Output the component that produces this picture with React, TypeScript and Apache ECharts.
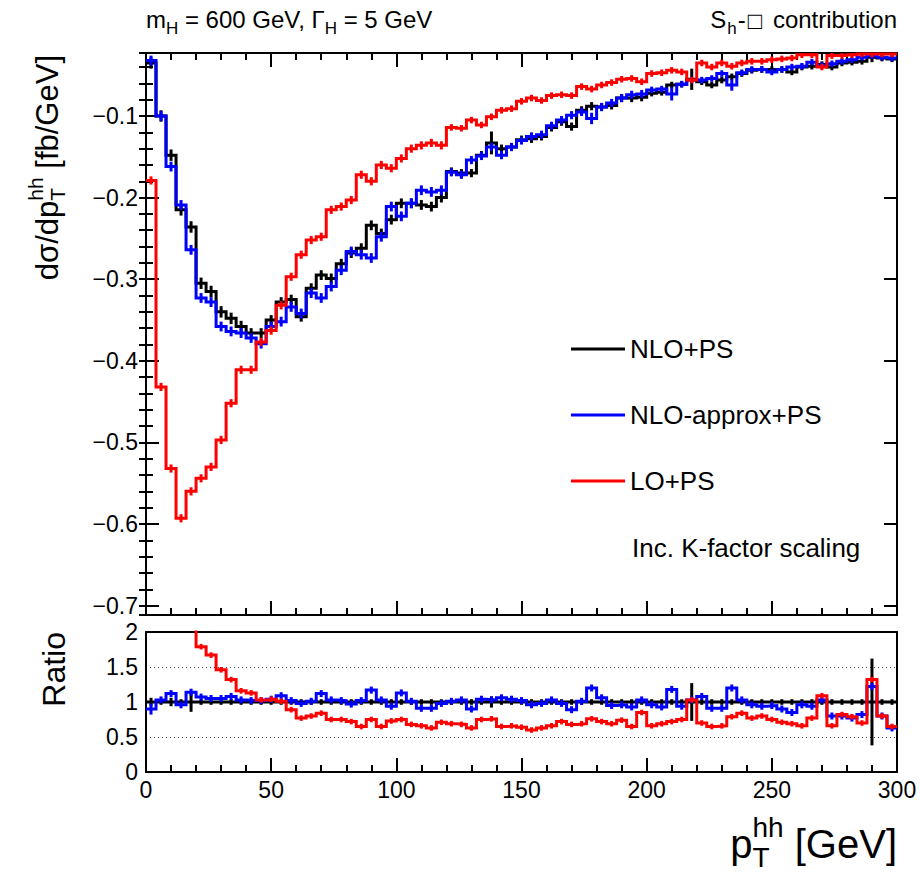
import React, { useEffect, useRef } from 'react';
import * as echarts from 'echarts';

const FONT = '"Liberation Sans", Arial, Helvetica, sans-serif';

// bin low edges in GeV (4 GeV bins)
const binLow = [
  0, 4, 8, 12, 16, 20, 24, 28, 32, 36, 40, 44, 48, 52, 56, 60, 64, 68, 72, 76,
  80, 84, 88, 92, 96, 100, 104, 108, 112, 116, 120, 124, 128, 132, 136, 140, 144, 148, 152, 156,
  160, 164, 168, 172, 176, 180, 184, 188, 192, 196, 200, 204, 208, 212, 216, 220, 224, 228, 232, 236,
  240, 244, 248, 252, 256, 260, 264, 268, 272, 276, 280, 284, 288, 292, 296,
];
const X_MAX = 300;
const seriesNames = ['NLO+PS', 'NLO-approx+PS', 'LO+PS'];
const seriesColors = ['#000000', '#0000ff', '#ff0000'];

// dsigma/dpT [fb/GeV]
const nloPS = [
  -0.035, -0.100, -0.148, -0.215, -0.236, -0.305, -0.315, -0.340, -0.348, -0.358,
  -0.366, -0.366, -0.350, -0.328, -0.325, -0.346, -0.311, -0.295, -0.299, -0.281,
  -0.268, -0.262, -0.234, -0.244, -0.227, -0.207, -0.207, -0.209, -0.211, -0.200,
  -0.168, -0.170, -0.170, -0.148, -0.133, -0.140, -0.138, -0.129, -0.128, -0.125,
  -0.114, -0.107, -0.113, -0.093, -0.088, -0.089, -0.087, -0.078, -0.078, -0.077,
  -0.072, -0.071, -0.062, -0.061, -0.055, -0.058, -0.062, -0.056, -0.052, -0.048,
  -0.044, -0.043, -0.043, -0.043, -0.046, -0.040, -0.039, -0.037, -0.040, -0.035,
  -0.034, -0.033, -0.028, -0.029, -0.030,
];
const nloApproxPS = [
  -0.032, -0.100, -0.162, -0.209, -0.264, -0.323, -0.328, -0.358, -0.364, -0.366,
  -0.372, -0.379, -0.358, -0.352, -0.334, -0.342, -0.317, -0.323, -0.309, -0.289,
  -0.266, -0.270, -0.274, -0.248, -0.211, -0.223, -0.207, -0.191, -0.193, -0.191,
  -0.169, -0.172, -0.154, -0.149, -0.138, -0.148, -0.138, -0.130, -0.125, -0.123,
  -0.112, -0.105, -0.099, -0.095, -0.103, -0.089, -0.084, -0.078, -0.074, -0.073,
  -0.068, -0.067, -0.073, -0.061, -0.056, -0.056, -0.054, -0.048, -0.062, -0.047,
  -0.043, -0.043, -0.046, -0.043, -0.040, -0.039, -0.034, -0.038, -0.036, -0.033,
  -0.031, -0.028, -0.026, -0.028, -0.029,
];
const loPS = [
  -0.179, -0.432, -0.532, -0.593, -0.560, -0.544, -0.530, -0.497, -0.452, -0.411,
  -0.411, -0.377, -0.363, -0.332, -0.297, -0.270, -0.252, -0.248, -0.215, -0.211,
  -0.203, -0.172, -0.180, -0.160, -0.164, -0.152, -0.140, -0.136, -0.133, -0.136,
  -0.114, -0.115, -0.105, -0.111, -0.101, -0.093, -0.091, -0.082, -0.078, -0.081,
  -0.075, -0.074, -0.075, -0.064, -0.067, -0.062, -0.059, -0.055, -0.054, -0.058,
  -0.048, -0.047, -0.044, -0.046, -0.056, -0.035, -0.040, -0.035, -0.039, -0.035,
  -0.033, -0.033, -0.031, -0.030, -0.029, -0.025, -0.025, -0.040, -0.026, -0.026,
  -0.025, -0.024, -0.024, -0.024, -0.024,
];
const errNloPS = [
  0.007, 0.007, 0.007, 0.007, 0.007, 0.007, 0.007, 0.007, 0.007, 0.007,
  0.006, 0.006, 0.006, 0.006, 0.006, 0.006, 0.006, 0.006, 0.006, 0.006,
  0.006, 0.006, 0.006, 0.006, 0.006, 0.006, 0.006, 0.006, 0.006, 0.006,
  0.005, 0.005, 0.005, 0.005, 0.014, 0.005, 0.005, 0.005, 0.005, 0.005,
  0.005, 0.005, 0.005, 0.005, 0.005, 0.005, 0.005, 0.005, 0.005, 0.005,
  0.004, 0.004, 0.004, 0.004, 0.013, 0.004, 0.004, 0.004, 0.004, 0.004,
  0.004, 0.004, 0.004, 0.004, 0.004, 0.004, 0.004, 0.004, 0.004, 0.004,
  0.004, 0.004, 0.006, 0.004, 0.004,
];
const errNloApproxPS = [
  0.006, 0.006, 0.006, 0.006, 0.006, 0.006, 0.006, 0.006, 0.006, 0.006,
  0.006, 0.006, 0.006, 0.006, 0.006, 0.006, 0.006, 0.006, 0.006, 0.006,
  0.006, 0.006, 0.006, 0.006, 0.006, 0.006, 0.006, 0.006, 0.006, 0.006,
  0.005, 0.005, 0.005, 0.005, 0.005, 0.005, 0.005, 0.005, 0.005, 0.005,
  0.005, 0.005, 0.005, 0.005, 0.007, 0.005, 0.005, 0.005, 0.005, 0.005,
  0.004, 0.004, 0.008, 0.004, 0.004, 0.004, 0.004, 0.004, 0.007, 0.004,
  0.004, 0.004, 0.004, 0.004, 0.004, 0.004, 0.004, 0.004, 0.004, 0.004,
  0.004, 0.004, 0.004, 0.004, 0.004,
];
const errLoPS = [
  0.005, 0.005, 0.005, 0.005, 0.005, 0.005, 0.005, 0.005, 0.005, 0.005,
  0.005, 0.005, 0.005, 0.005, 0.005, 0.005, 0.005, 0.005, 0.005, 0.005,
  0.005, 0.005, 0.005, 0.005, 0.005, 0.005, 0.005, 0.005, 0.005, 0.005,
  0.004, 0.004, 0.004, 0.004, 0.004, 0.004, 0.004, 0.004, 0.004, 0.004,
  0.004, 0.004, 0.004, 0.004, 0.004, 0.004, 0.004, 0.004, 0.004, 0.004,
  0.004, 0.004, 0.004, 0.004, 0.004, 0.004, 0.004, 0.004, 0.004, 0.004,
  0.004, 0.004, 0.004, 0.004, 0.004, 0.004, 0.004, 0.004, 0.004, 0.004,
  0.004, 0.004, 0.004, 0.004, 0.004,
];

// ratio to NLO+PS
const ratioNloPS = [
  1, 1, 1, 1, 1, 1, 1, 1, 1, 1, 1, 1, 1, 1, 1, 1, 1, 1, 1, 1,
  1, 1, 1, 1, 1, 1, 1, 1, 1, 1, 1, 1, 1, 1, 1, 1, 1, 1, 1, 1,
  1, 1, 1, 1, 1, 1, 1, 1, 1, 1, 1, 1, 1, 1, 1, 1, 1, 1, 1, 1,
  1, 1, 1, 1, 1, 1, 1, 1, 1, 1, 1, 1, 1, 1, 1,
];
const ratioNloApproxPS = [
  0.90, 1.03, 1.12, 0.96, 1.14, 1.07, 1.05, 1.05, 1.08, 1.03,
  1.02, 1.02, 1.04, 1.09, 1.02, 0.98, 1.01, 1.12, 1.03, 1.02,
  0.97, 1.02, 1.17, 1.03, 0.94, 1.13, 1.01, 0.91, 0.91, 0.98,
  1.01, 1.03, 0.90, 1.04, 1.03, 1.06, 1.04, 1.02, 0.96, 0.98,
  1.03, 0.98, 0.89, 1.01, 1.20, 1.06, 0.95, 0.96, 0.93, 1.03,
  0.96, 0.93, 1.18, 0.94, 1.03, 1.08, 0.91, 0.91, 1.20, 1.03,
  0.96, 0.94, 0.95, 0.90, 0.85, 0.96, 0.94, 1.03, 0.80, 0.80,
  0.77, 0.82, 1.22, 0.80, 0.63,
];
const ratioLoPS = [
  5.10, 4.30, 3.60, 2.76, 2.37, 1.79, 1.67, 1.46, 1.32, 1.16,
  1.13, 1.03, 1.04, 1.01, 0.89, 0.77, 0.80, 0.84, 0.75, 0.75,
  0.72, 0.65, 0.75, 0.65, 0.73, 0.75, 0.68, 0.66, 0.63, 0.71,
  0.69, 0.68, 0.63, 0.75, 0.76, 0.65, 0.66, 0.64, 0.60, 0.63,
  0.66, 0.72, 0.68, 0.69, 0.76, 0.72, 0.69, 0.74, 0.65, 0.85,
  0.66, 0.69, 0.72, 0.75, 1.03, 0.70, 0.65, 0.66, 0.79, 0.84,
  0.77, 0.80, 0.75, 0.71, 0.69, 0.66, 0.77, 1.09, 0.66, 0.82,
  0.79, 0.70, 1.32, 0.80, 0.65,
];
const ratioErrNloPS = [
  0.06, 0.04, 0.06, 0.04, 0.14, 0.04, 0.04, 0.04, 0.04, 0.04,
  0.04, 0.04, 0.04, 0.04, 0.04, 0.04, 0.04, 0.04, 0.04, 0.04,
  0.04, 0.04, 0.04, 0.04, 0.04, 0.04, 0.04, 0.04, 0.04, 0.04,
  0.04, 0.04, 0.04, 0.04, 0.08, 0.04, 0.04, 0.04, 0.04, 0.04,
  0.04, 0.04, 0.04, 0.04, 0.04, 0.04, 0.04, 0.04, 0.04, 0.04,
  0.04, 0.04, 0.04, 0.04, 0.27, 0.04, 0.04, 0.04, 0.04, 0.04,
  0.04, 0.04, 0.04, 0.04, 0.04, 0.04, 0.04, 0.04, 0.04, 0.04,
  0.04, 0.04, 0.62, 0.04, 0.04,
];
const ratioErrNloApproxPS = [
  0.08, 0.05, 0.05, 0.05, 0.05, 0.05, 0.05, 0.05, 0.05, 0.05,
  0.05, 0.05, 0.05, 0.05, 0.05, 0.05, 0.05, 0.05, 0.05, 0.05,
  0.05, 0.05, 0.05, 0.05, 0.05, 0.05, 0.05, 0.05, 0.05, 0.05,
  0.05, 0.05, 0.05, 0.05, 0.05, 0.05, 0.05, 0.05, 0.05, 0.05,
  0.05, 0.05, 0.05, 0.05, 0.05, 0.05, 0.05, 0.05, 0.05, 0.05,
  0.05, 0.05, 0.05, 0.05, 0.05, 0.05, 0.05, 0.05, 0.05, 0.05,
  0.05, 0.05, 0.05, 0.05, 0.05, 0.05, 0.05, 0.05, 0.05, 0.05,
  0.05, 0.05, 0.05, 0.05, 0.05,
];
const ratioErrLoPS = [
  0.04, 0.04, 0.04, 0.04, 0.04, 0.04, 0.04, 0.04, 0.04, 0.04,
  0.04, 0.04, 0.04, 0.04, 0.04, 0.04, 0.04, 0.04, 0.04, 0.04,
  0.04, 0.04, 0.04, 0.04, 0.04, 0.04, 0.04, 0.04, 0.04, 0.04,
  0.04, 0.04, 0.04, 0.04, 0.04, 0.04, 0.04, 0.04, 0.04, 0.04,
  0.04, 0.04, 0.04, 0.04, 0.04, 0.04, 0.04, 0.04, 0.04, 0.04,
  0.04, 0.04, 0.04, 0.04, 0.04, 0.04, 0.04, 0.04, 0.04, 0.04,
  0.04, 0.04, 0.04, 0.04, 0.04, 0.04, 0.04, 0.04, 0.04, 0.04,
  0.04, 0.04, 0.04, 0.04, 0.04,
];

const Y_MIN = -0.7115;
const Y_MAX = -0.0228;

export default function App() {
  const ref = useRef<HTMLDivElement>(null);
  useEffect(() => {
    const el = ref.current as HTMLDivElement;
    const chart = echarts.init(el, null, { renderer: 'svg' });

    const ctx = document.createElement('canvas').getContext('2d') as CanvasRenderingContext2D;
    const tw = (s: string, size: number) => {
      ctx.font = `${size}px ${FONT}`;
      return ctx.measureText(s).width;
    };
    const BK = 0.35;
    const txt = (text: string, x: number, base: number, size: number): any => ({
      type: 'text', x, y: base - BK * size, silent: true,
      style: { text, fontSize: size, fontFamily: FONT, fill: '#000', align: 'left', verticalAlign: 'middle' },
    });

    const g: any[] = [];
    // top-left label
    {
      const F = 24, S = 17, sd = 6, base = 28;
      let x = 146;
      const parts: [string, number, number][] = [
        ['m', F, 0], ['H', S, sd], [' = 600 GeV, \u0393', F, 0], ['H', S, sd], [' = 5 GeV', F, 0],
      ];
      for (const [t, s, d] of parts) { g.push(txt(t, x, base + d, s)); x += tw(t, s); }
    }
    // top-right label
    {
      const F = 24, S = 17, sd = 6, base = 28;
      const parts: [string, number, number, number][] = [
        ['S', F, 0, 1], ['h', S, sd, 1], ['-', F, 0, 2], ['\u25A1', 24, 1, 4], [' contribution', F, 0, 0],
      ];
      const total = parts.reduce((a, [t, s, , gap]) => a + tw(t, s) + gap, 0);
      let x = 897 - total;
      for (const [t, s, d, gap] of parts) { g.push(txt(t, x, base + d, s)); x += tw(t, s) + gap; }
    }
    // x title
    {
      const F = 40, S = 28, base = 858;
      const wp = tw('p', F), wsup = tw('hh', S), wsub = tw('T', S), wr = tw(' [GeV]', F);
      const m = Math.max(wsup, wsub);
      const x0 = 897 - (wp + m + wr);
      g.push(txt('p', x0, base, F));
      g.push(txt('hh', x0 + wp, base - 21, S));
      g.push(txt('T', x0 + wp, base + 9, S));
      g.push(txt(' [GeV]', x0 + wp + m, base, F));
    }
    // y title (rotated)
    {
      const F = 31, S = 21;
      const w1 = tw('d\u03C3/dp', F), wh = tw('hh', S), wT = tw('T', S), w2 = tw(' [fb/GeV]', F);
      const m = Math.max(wh, wT);
      const L = w1 + m + w2;
      g.push({
        type: 'group', x: 58, y: 55 + L, rotation: Math.PI / 2,
        children: [txt('d\u03C3/dp', 0, 0, F), txt('hh', w1, -15, S), txt('T', w1, 7, S), txt(' [fb/GeV]', w1 + m, 0, F)],
      });
    }
    // ratio title
    {
      const F = 32;
      const w = tw('Ratio', F);
      g.push({ type: 'group', x: 65, y: 632 + w, rotation: Math.PI / 2, children: [txt('Ratio', 0, 0, F)] });
    }
    g.push(txt('Inc. K-factor scaling', 632, 557, 26));

    const axLine = { show: true, onZero: false, lineStyle: { color: '#000', width: 2 } };
    const tickStyle = { color: '#000', width: 2 };
    const xTop = (gi: number, pos: string, labels: boolean, ticks: boolean): any => ({
      type: 'value', gridIndex: gi, position: pos, min: 0, max: X_MAX, interval: 50,
      axisLine: axLine,
      axisTick: { show: ticks, inside: true, length: 14, lineStyle: tickStyle },
      minorTick: { show: ticks, splitNumber: 5, length: 7, lineStyle: tickStyle },
      axisLabel: {
        show: labels, fontSize: 23, fontFamily: FONT, color: '#000', margin: 6,
        formatter: (v: number) => String(v),
      },
      splitLine: { show: false },
    });
    const fmtTop = (v: number) => {
      const r = Math.round(v * 10) / 10;
      if (Math.abs(v - r) > 1e-6 || r === 0) return '';
      return '\u2212' + Math.abs(r).toFixed(1);
    };
    const yTop = (pos: string, major: boolean): any => ({
      type: 'value', gridIndex: 0, position: pos, min: Y_MIN, max: Y_MAX,
      minInterval: major ? 0.1 : 0.02, maxInterval: major ? 0.1 : 0.02,
      splitNumber: major ? 6 : 34,
      axisLine: major ? axLine : { show: false },
      axisTick: { show: true, inside: true, length: major ? 13 : 7, lineStyle: tickStyle },
      axisLabel: {
        show: major && pos === 'left', fontSize: 23, fontFamily: FONT, color: '#000', margin: 8,
        formatter: fmtTop, showMinLabel: false, showMaxLabel: false,
      },
      splitLine: { show: false },
    });

    const step = (vals: number[]) => [...binLow.map((x, i) => [x, vals[i]]), [X_MAX, vals[vals.length - 1]]];
    const half = (binLow[1] - binLow[0]) / 2;
    const errPts = (vals: number[], errs: number[]) => binLow.map((x, i) => [x + half, vals[i], errs[i]]);
    const lineS = (name: string, color: string, data: any[], xi: number, yi: number, z: number): any => ({
      type: 'line', name, data, xAxisIndex: xi, yAxisIndex: yi, step: 'end', symbol: 'none', showSymbol: false,
      color, itemStyle: { color }, lineStyle: { color, width: 3, join: 'miter' }, clip: true, z, silent: true,
    });
    const errS = (name: string, color: string, data: any[], xi: number, yi: number, z: number): any => ({
      type: 'custom', name, data, xAxisIndex: xi, yAxisIndex: yi, clip: true, z, silent: true,
      encode: { x: 0, y: 1 },
      renderItem: (_p: any, api: any) => {
        const xv = api.value(0), yv = api.value(1), e = api.value(2);
        const p1 = api.coord([xv, yv - e]);
        const p2 = api.coord([xv, yv + e]);
        return { type: 'line', shape: { x1: p1[0], y1: p1[1], x2: p2[0], y2: p2[1] }, style: { stroke: color, lineWidth: 3 } };
      },
    });

    const topVals = [nloPS, nloApproxPS, loPS];
    const topErrs = [errNloPS, errNloApproxPS, errLoPS];
    const ratVals = [ratioNloPS, ratioNloApproxPS, ratioLoPS];
    const ratErrs = [ratioErrNloPS, ratioErrNloApproxPS, ratioErrLoPS];
    const series: any[] = [];
    for (let k = 0; k < 3; k++) {
      series.push(lineS(seriesNames[k], seriesColors[k], step(topVals[k]), 0, 0, 3 + k));
      series.push(errS(seriesNames[k] + ' err', seriesColors[k], errPts(topVals[k], topErrs[k]), 0, 0, 3 + k));
      series.push(lineS(seriesNames[k], seriesColors[k], step(ratVals[k]), 2, 4, 3 + k));
      series.push(errS(seriesNames[k] + ' ratio err', seriesColors[k], errPts(ratVals[k], ratErrs[k]), 2, 4, 3 + k));
    }

    const option: any = {
      animation: false,
      backgroundColor: '#fff',
      grid: [
        { left: 146, top: 53, width: 751, height: 562 },
        { left: 146, top: 632, width: 751, height: 140 },
      ],
      xAxis: [
        xTop(0, 'bottom', false, true),
        xTop(0, 'top', false, true),
        xTop(1, 'bottom', true, true),
        xTop(1, 'top', false, false),
      ],
      yAxis: [
        yTop('left', true),
        yTop('left', false),
        yTop('right', true),
        yTop('right', false),
        {
          type: 'value', gridIndex: 1, position: 'left', min: 0, max: 2, interval: 0.5,
          axisLine: axLine, axisTick: { show: false },
          axisLabel: { show: true, fontSize: 23, fontFamily: FONT, color: '#000', margin: 8, formatter: (v: number) => String(v) },
          splitLine: { show: true, lineStyle: { color: '#444', width: 1, type: [1, 3] } },
        },
        {
          type: 'value', gridIndex: 1, position: 'right', min: 0, max: 2, interval: 0.5,
          axisLine: axLine, axisTick: { show: false }, axisLabel: { show: false }, splitLine: { show: false },
        },
      ],
      legend: {
        data: seriesNames, orient: 'vertical', left: 571, top: 335, padding: 0,
        icon: 'rect', itemWidth: 54, itemHeight: 3, itemGap: 38, selectedMode: false,
        textStyle: { fontSize: 26, fontFamily: FONT, color: '#000', lineHeight: 28 },
      },
      graphic: g,
      series,
    };
    chart.setOption(option);
    return () => chart.dispose();
  }, []);
  return <div ref={ref} style={{ position: 'absolute', left: 0, top: 0, width: 922, height: 876, background: '#fff' }} />;
}
